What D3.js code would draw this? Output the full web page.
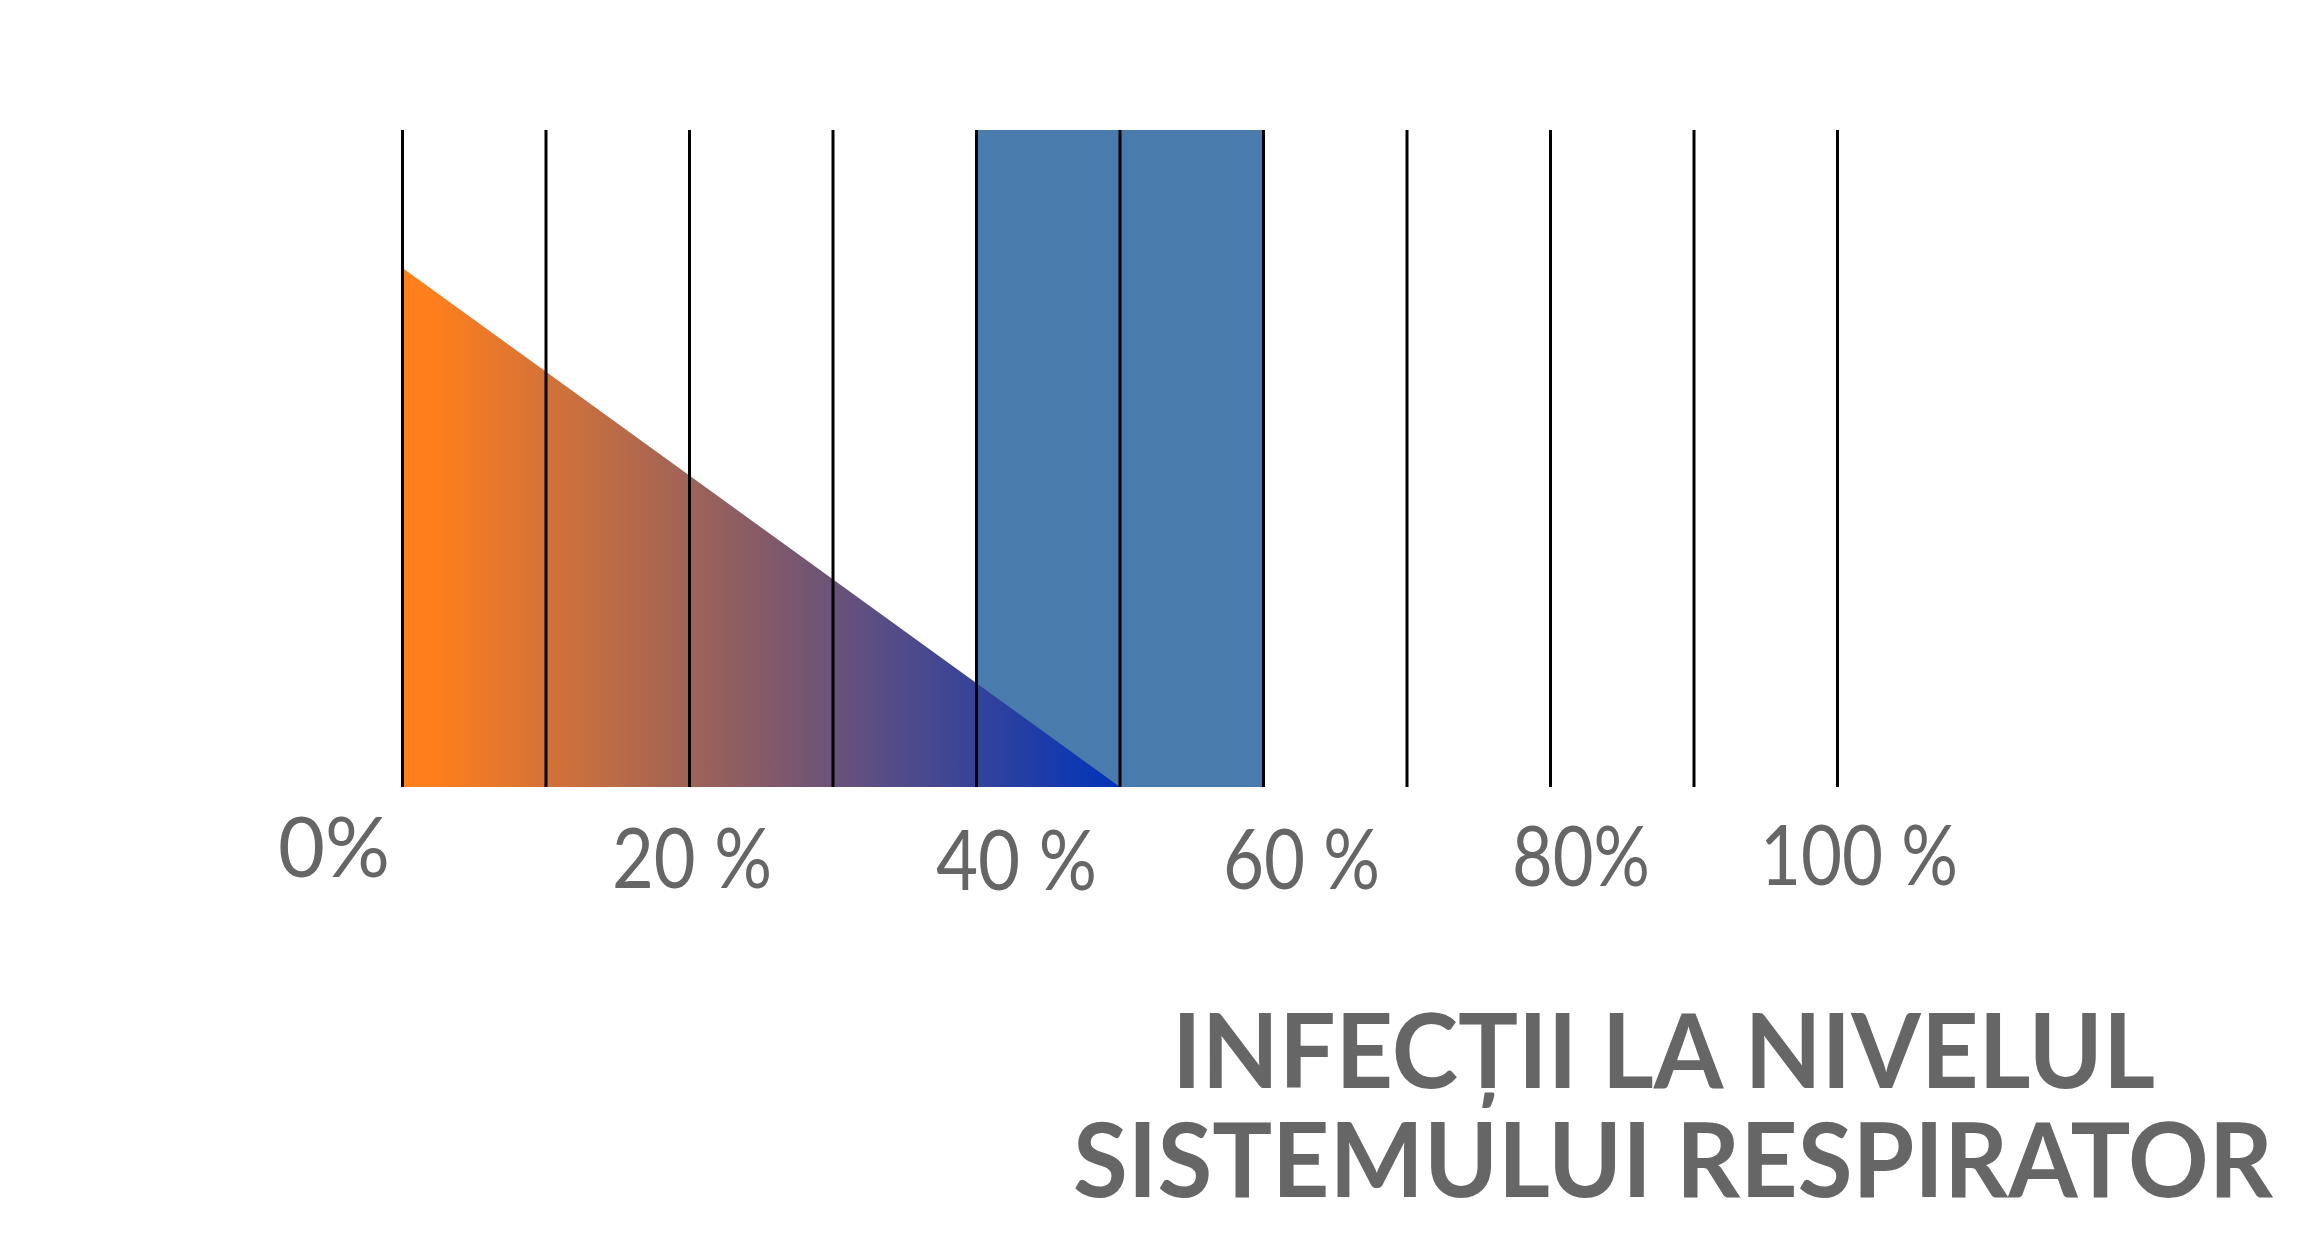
<!DOCTYPE html>
<html><head><meta charset="utf-8">
<script src="https://cdn.jsdelivr.net/npm/d3@7"></script>
<style>
html,body{margin:0;padding:0;background:#fff;}
svg{display:block;}
</style></head>
<body>
<svg id="chart" width="2318" height="1248"></svg>
<script>
// ---- data ----
const gridValues = [0, 10, 20, 30, 40, 50, 60, 70, 80, 90, 100];
const tickValues = [0, 20, 40, 60, 80, 100];
const tickLabels = ["0%", "20 %", "40 %", "60 %", "80%", "100 %"];
const triangleX = [0, 50];
const triangleY = [79, 0];
const bandRange = [40, 60];
const bandHeight = 100;
const titleLines = ["INFECȚII LA NIVELUL", "SISTEMULUI RESPIRATOR"];

// ---- layout (not data) ----
const labelLeftNudge = [-125, -78, -41, -41, -39, -78];
const labelBaselineOffset = [90, 101, 103, 102, 99, 98];
const labelWidths = [112, 160, 161, 157, 138, 198];
const titleLeft = [1172, 1073];
const titleBaseline = [1088, 1197];
const titleWidths = [983, 1200];

const svg = d3.select("#chart");
const x = d3.scaleLinear().domain([0, 100]).range([402.5, 1837.5]);
const y = d3.scaleLinear().domain([0, 100]).range([787, 130]);

const defs = svg.append("defs");
const grad = defs.append("linearGradient")
  .attr("id", "triGrad").attr("gradientUnits", "userSpaceOnUse")
  .attr("x1", x(triangleX[0])).attr("x2", x(triangleX[1]))
  .attr("y1", 0).attr("y2", 0);
grad.append("stop").attr("offset", 0).attr("stop-color", "#FF7F1C");
grad.append("stop").attr("offset", 0.04).attr("stop-color", "#FF7F1C");
grad.append("stop").attr("offset", 1).attr("stop-color", "#0033BB");

// blue band
svg.append("rect")
  .attr("x", x(bandRange[0]))
  .attr("width", x(bandRange[1]) - x(bandRange[0]))
  .attr("y", y(bandHeight))
  .attr("height", y(0) - y(bandHeight))
  .attr("fill", "#497BAD");

// gradient triangle
const triData = triangleX.map((v, i) => ({x: v, y: triangleY[i]}));
const area = d3.area().x(d => x(d.x)).y0(y(0)).y1(d => y(d.y));
svg.append("path").datum(triData).attr("d", area).attr("fill", "url(#triGrad)");

// grid lines
svg.append("g").selectAll("line").data(gridValues).join("line")
  .attr("x1", d => x(d)).attr("x2", d => x(d))
  .attr("y1", y(100)).attr("y2", y(0))
  .attr("stroke", "#000").attr("stroke-width", 3);

// axis labels
const axis = d3.axisBottom(x).tickValues(tickValues)
  .tickFormat((d, i) => tickLabels[i]).tickSize(0);
const gAxis = svg.append("g").attr("transform", `translate(0,${y(0)})`).call(axis);
gAxis.select(".domain").remove();
gAxis.selectAll("text")
  .attr("font-family", "Lato, sans-serif")
  .attr("font-size", 83)
  .attr("fill", "#666666")
  .attr("text-anchor", "start")
  .attr("dy", 0)
  .attr("y", (d, i) => labelBaselineOffset[i])
  .attr("x", (d, i) => labelLeftNudge[i])
  .attr("textLength", (d, i) => labelWidths[i])
  .attr("lengthAdjust", "spacingAndGlyphs");

// title
svg.append("g").selectAll("text").data(titleLines).join("text")
  .attr("x", (d, i) => titleLeft[i])
  .attr("y", (d, i) => titleBaseline[i])
  .attr("font-family", "Lato, sans-serif")
  .attr("font-weight", 700)
  .attr("font-size", 103)
  .attr("fill", "#666666")
  .attr("textLength", (d, i) => titleWidths[i])
  .attr("lengthAdjust", "spacingAndGlyphs")
  .text(d => d);
</script>
</body></html>
